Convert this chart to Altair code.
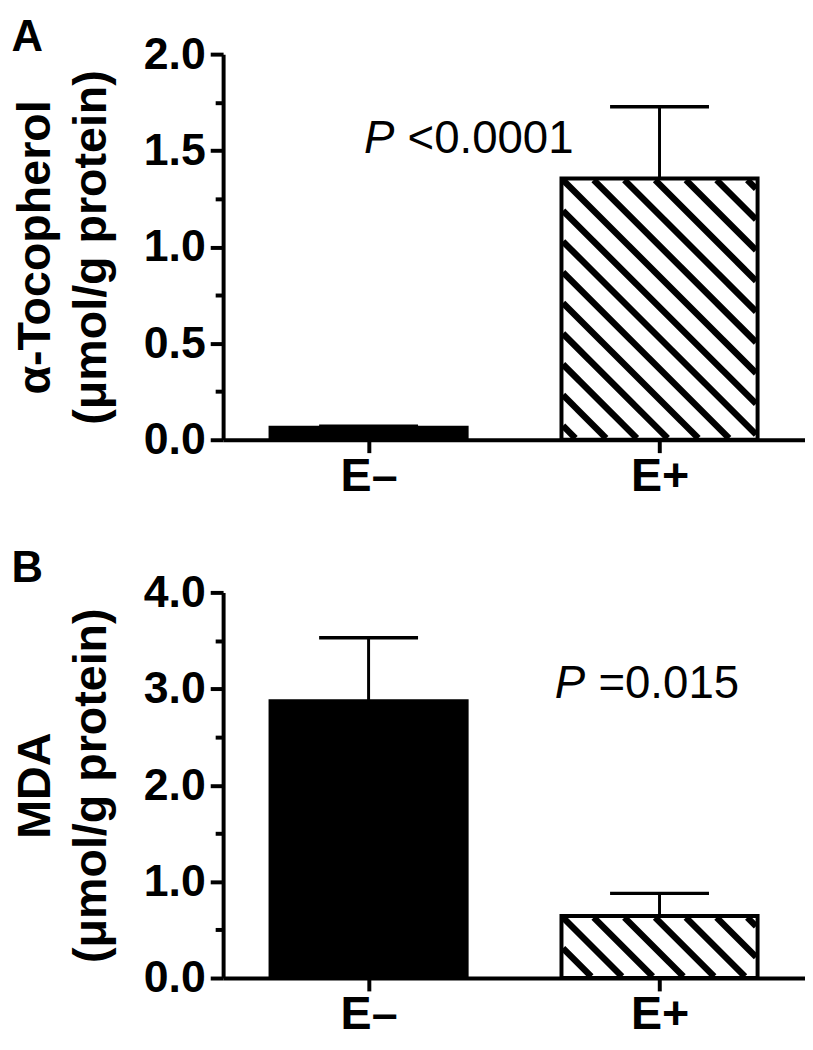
import altair as alt
import pandas as pd
import numpy as np

FONT = "Liberation Sans"

groups = ["E–", "E+"]
xpos = [0.5, 1.5]
# Panel A: alpha-tocopherol
a_mean = [0.062, 1.355]
a_sem = [0.008, 0.372]
# Panel B: MDA
b_mean = [2.87, 0.643]
b_sem = [0.66, 0.235]
fills = ["black", "white"]

a_ticks = [0.0, 0.25, 0.5, 0.75, 1.0, 1.25, 1.5, 1.75, 2.0]
b_ticks = [0.0, 0.5, 1.0, 1.5, 2.0, 2.5, 3.0, 3.5, 4.0]

a_p_text = ["P", "<0.0001"]
a_p_pos = [0.484, 1.487]
b_p_text = ["P", "=0.015"]
b_p_pos = [1.14, 2.90]

W, H = 587, 389
HALF = 0.337      # bar half width (x units)
CAP = 0.17        # error cap half width
HATCH_STEP = 31   # px
XMAX = 2.0


def hatch_segments(xc, half, top, ymax, inset=1.5):
    ppx = W / XMAX
    ppy = H / ymax
    xl = (xc - half) * ppx + inset
    xr = (xc + half) * ppx - inset
    yt = (ymax - top) * ppy + inset
    yb = ymax * ppy - inset
    c0 = xl - yt
    rows = []
    for k in range(-60, 60):
        c = c0 + k * HATCH_STEP
        y1 = max(yt, xl - c)
        y2 = min(yb, xr - c)
        if y2 - y1 > 0.5:
            rows.append({
                "hx": (y1 + c) / ppx, "hy": ymax - y1 / ppy,
                "hx2": (y2 + c) / ppx, "hy2": ymax - y2 / ppy,
            })
    return pd.DataFrame(rows)


def panel(means, sems, ymax, ticks, major_mod, title_lines, letter, ptext, ppos, title_offset):
    df = pd.DataFrame({
        "group": groups,
        "x": xpos,
        "mean": means,
        "top": [m + s for m, s in zip(means, sems)],
        "fill": fills,
    })
    df["xlo"] = df["x"] - HALF
    df["xhi"] = df["x"] + HALF
    df["clo"] = df["x"] - CAP
    df["chi"] = df["x"] + CAP
    df["zero"] = 0.0

    xscale = alt.Scale(domain=[0, XMAX], nice=False, zero=False)
    yscale = alt.Scale(domain=[0, ymax], nice=False)

    xaxis = alt.Axis(
        values=xpos, title=None, grid=False,
        labelExpr="datum.value < 1 ? 'E–' : 'E+'",
        labelFont=FONT, labelFontSize=47, labelFontWeight="bold", labelColor="black",
        labelPadding=1, tickSize=13, tickWidth=4, tickColor="black",
        domainWidth=4, domainColor="black",
    )
    yaxis = alt.Axis(
        values=ticks, grid=False, title=title_lines,
        labelExpr=f"datum.value % {major_mod} ? '' : format(datum.value, '.1f')",
        labelOverlap=False, labelBound=False,
        labelFont=FONT, labelFontSize=45, labelFontWeight="bold", labelColor="black",
        labelPadding=5,
        tickSize={"condition": {"test": f"datum.value % {major_mod}", "value": 8}, "value": 13},
        tickWidth=4, tickColor="black",
        domainWidth=4, domainColor="black",
        titleFont=FONT, titleFontSize=47, titleFontWeight="bold", titleColor="black",
        titleLineHeight=57, titlePadding=28,
    )

    base = alt.Chart(df)
    bars = base.mark_rect().encode(
        x=alt.X("xlo:Q", scale=xscale, axis=xaxis),
        x2="xhi:Q",
        y=alt.Y("mean:Q", scale=yscale, axis=yaxis),
        y2="zero:Q",
        fill=alt.Fill("fill:N", scale=None),
    )
    hdf = hatch_segments(xpos[1], HALF, means[1], ymax)
    hatch = alt.Chart(hdf).mark_rule(color="black", strokeWidth=6.5).encode(
        x=alt.X("hx:Q", scale=xscale), y=alt.Y("hy:Q", scale=yscale),
        x2="hx2:Q", y2="hy2:Q",
    )
    outline = base.mark_rect(fillOpacity=0, stroke="black", strokeWidth=4).encode(
        x=alt.X("xlo:Q", scale=xscale), x2="xhi:Q",
        y=alt.Y("mean:Q", scale=yscale), y2="zero:Q",
    )
    err = base.mark_rule(color="black", strokeWidth=3).encode(
        x=alt.X("x:Q", scale=xscale), y=alt.Y("mean:Q", scale=yscale), y2="top:Q",
    )
    cap = base.mark_rule(color="black", strokeWidth=3.5).encode(
        x=alt.X("clo:Q", scale=xscale), x2="chi:Q", y=alt.Y("top:Q", scale=yscale),
    )
    tdf = pd.DataFrame({"tx": [ppos[0]], "ty": [ppos[1]], "p": [ptext[0]], "rest": [ptext[1]]})
    t1 = alt.Chart(tdf).mark_text(
        font=FONT, fontSize=46, fontStyle="italic", align="left", baseline="alphabetic", color="black"
    ).encode(x=alt.X("tx:Q", scale=xscale), y=alt.Y("ty:Q", scale=yscale), text="p:N")
    t2 = alt.Chart(tdf).mark_text(
        font=FONT, fontSize=46, align="left", baseline="alphabetic", color="black", dx=44
    ).encode(x=alt.X("tx:Q", scale=xscale), y=alt.Y("ty:Q", scale=yscale), text="rest:N")

    return alt.layer(err, bars, hatch, outline, cap, t1, t2).properties(
        width=W, height=H,
        title=alt.TitleParams(
            letter, anchor="start", frame="bounds", font=FONT, fontSize=44,
            fontWeight="bold", color="black", offset=title_offset,
        ),
    )


pa = panel(a_mean, a_sem, 2.0, a_ticks, 0.5, ["α-Tocopherol", "(μmol/g protein)"], "A", a_p_text, a_p_pos, -28)
pb = panel(b_mean, b_sem, 4.0, b_ticks, 1, ["MDA", "(μmol/g protein)"], "B", b_p_text, b_p_pos, -20)

chart = alt.vconcat(pa, pb, spacing=48).properties(
    padding={"left": 3, "top": 4, "right": 0, "bottom": 0},
    background="white",
).configure_view(strokeWidth=0)

chart.save("out.html", embed_options={"renderer": "svg", "actions": False})
